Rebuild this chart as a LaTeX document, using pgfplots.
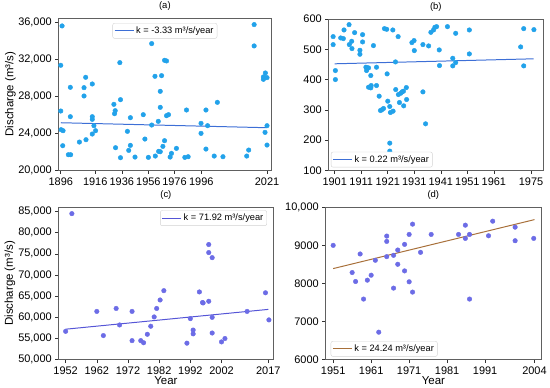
\documentclass[border=0pt]{standalone}
\usepackage{fontspec}
\setmainfont{Liberation Sans}
\usepackage{pgfplots}
\pgfplotsset{compat=1.18}
\definecolor{ptsA}{HTML}{22A2EA}
\definecolor{lineA}{HTML}{3D6FD6}
\definecolor{ptsC}{HTML}{6C6CE6}
\definecolor{lineC}{HTML}{5555D6}
\definecolor{lineD}{HTML}{A8703A}
\pgfplotsset{
  myax/.style={
    scale only axis, anchor=south west, clip=false,
    axis line style={gray!75!black, line width=0.7pt},
    tick style={gray!40!black, line width=0.6pt}, tick align=outside, major tick length=3.5pt,
    xtick pos=bottom, ytick pos=left,
    tick label style={font=\fontsize{11}{11}\selectfont},
    /pgf/number format/assume math mode=true,
    scaled y ticks=false,
    yticklabel style={/pgf/number format/.cd, fixed, 1000 sep={,}},
    title style={font=\fontsize{9.5}{10}\selectfont, at={(0.5,1)}, anchor=south, inner sep=1.5pt},
    label style={font=\fontsize{11.5}{12}\selectfont},
    legend style={font=\fontsize{9.3}{10}\selectfont, draw=gray!35, rounded corners=2pt, inner sep=1.5pt},
    legend cell align=left,
    legend image code/.code={\draw[#1] (0pt,0pt) -- (19pt,0pt);},
  },
  pts/.style={only marks, mark=*, mark size=2.3pt, color=#1, mark options={solid, draw=#1, fill=#1}},
}
\begin{document}
\begin{tikzpicture}
\path (0,0) rectangle (550pt,385pt);
% (a)
\begin{axis}[myax, at={(59pt,218pt)}, width=213pt, height=153pt,
  title={(a)}, ylabel={Discharge (m³/s)},
  ylabel style={at={(axis description cs:-0.228,0.5)}, anchor=center},
  xmin=1894.8, xmax=2023.4, ymin=20000, ymax=36500,
  ytick={20000,24000,28000,32000,36000},
  xtick={1896,1916.9,1933.0,1949.1,1964.9,1981.2,2021},
  xticklabels={1896,1916,1936,1956,1976,1996,2021},
  legend style={at={(0.5,0.967)}, anchor=north}]
\addplot[lineA, line width=1pt] coordinates {(1896,25160) (2021,24620)};
\addlegendentry{k = -3.33 m³/s/year}
\addplot[pts=ptsA, forget plot] table {
x y
1896.8 35640
1896.0 31378
1896.0 26429
1896.2 24407
1897.4 24298
1897.2 22673
1900.6 21698
1902.0 21698
1901.8 28994
1901.8 25815
1907.3 23070
1910.1 28958
1910.1 28055
1911.1 30077
1911.3 23323
1915.1 29355
1915.1 25815
1915.1 25526
1915.1 23937
1916.1 24840
1917.1 24298
1928.2 27152
1928.6 26140
1929.0 26465
1929.2 22456
1931.8 31667
1932.2 27657
1932.2 21373
1936.4 24226
1937.2 22167
1938.2 25707
1938.2 22709
1941.0 21445
1946.0 26032
1947.0 23395
1949.1 21409
1951.1 33726
1951.1 24912
1953.1 30186
1953.3 21553
1955.1 25310
1955.3 22059
1956.3 22023
1956.3 28560
1956.3 26827
1957.1 30258
1957.9 22601
1958.9 23215
1958.9 31920
1960.1 31847
1960.1 25924
1961.3 26032
1962.3 21445
1963.1 21842
1966.1 22384
1971.2 21409
1972.2 26538
1973.2 21481
1981.0 25093
1981.0 24009
1984.0 26538
1984.0 22312
1985.0 24840
1989.0 21553
1990.9 27368
1994.3 21481
2008.7 21553
2009.9 22203
2013.2 35785
2013.2 33473
2018.8 30113
2018.8 29860
2019.8 30041
2020.0 30547
2021.0 30041
2019.8 24118
2021.0 24840
2021.0 22745
};
\end{axis}
% (b)
\begin{axis}[myax, at={(330pt,218pt)}, width=215pt, height=152pt,
  title={(b)},
  xmin=1898.75, xmax=1979.5, ymin=100, ymax=600,
  ytick={100,200,300,400,500,600},
  xtick={1901,1911,1921,1931,1941,1951,1961,1975},
  xticklabels={1901,1911,1921,1931,1941,1951,1961,1975},
  legend style={at={(0.01,0.02)}, anchor=south west}]
\addplot[lineA, line width=1pt] coordinates {(1901,452) (1976,468.5)};
\addlegendentry{k = 0.22 m³/s/year}
\addplot[pts=ptsA, forget plot] table {
x y
1900.4 541.8
1900.4 515.4
1901.25 429.7
1901.25 400.0
1903.25 537.4
1904.25 535.2
1904.5 563.7
1906.4 581.3
1906.5 515.4
1907.4 526.4
1907.5 502.2
1908.5 554.9
1910.5 496.7
1910.5 483.5
1911.5 548.3
1911.5 524.2
1912.75 440.7
1913 429.7
1913.25 438.5
1913.75 438.5
1914.6 413.2
1915.6 512.1
1913.75 374.7
1914.6 372.5
1914.75 380.2
1916.75 380.2
1916.75 440.7
1917.75 345.1
1918.25 297.8
1918.75 300.0
1919.4 304.4
1919.75 568.1
1920.6 565.9
1920.75 418.7
1921 328.6
1921.75 311.0
1922 291.2
1921.75 190.1
1921.75 163.7
1923 295.6
1922.9 563.7
1923.9 458.2
1924 367.0
1924.9 541.8
1925 350.5
1925.4 324.2
1925.9 354.9
1926.4 359.3
1926.9 361.5
1927 313.2
1928 373.6
1928.1 334.1
1930.1 522.0
1930.9 528.6
1931 495.6
1934.25 515.4
1934.25 359.3
1935.25 253.8
1936.4 511.0
1937.25 556.0
1938.25 563.7
1938.75 572.5
1939.4 574.7
1940.4 497.8
1940.5 446.2
1943.5 574.7
1945.5 470.3
1945.5 445.1
1946.6 552.7
1946.6 456.0
1951.75 563.7
1951.75 484.6
1971.1 507.7
1972.25 568.1
1972.25 445.1
1976.1 564.8
};
\end{axis}
% (c)
\begin{axis}[myax, at={(59pt,28pt)}, width=215pt, height=153pt,
  title={(c)}, ylabel={Discharge (m³/s)}, xlabel={Year},
  ylabel style={at={(axis description cs:-0.228,0.5)}, anchor=center},
  xlabel style={at={(axis description cs:0.5,-0.137)}, anchor=center},
  xmin=1949.8, xmax=2018.5, ymin=50000, ymax=86000,
  ytick={50000,55000,60000,65000,70000,75000,80000,85000},
  xtick={1952,1962,1972,1982,1992,2002,2017},
  xticklabels={1952,1962,1972,1982,1992,2002,2017},
  legend style={at={(0.972,0.98)}, anchor=north east}]
\addplot[lineC, line width=1pt] coordinates {(1952,57200) (2017,61880)};
\addlegendentry{k = 71.92 m³/s/year}
\addplot[pts=ptsC, forget plot] table {
x y
1954.0 84500
1952.0 56700
1962.0 61400
1964.1 55700
1968.2 62100
1969.3 58200
1973.3 61400
1973.3 54500
1976.1 54500
1977.0 54000
1978.2 56000
1979.3 57900
1980.4 60100
1981.2 62100
1982.3 64100
1983.5 66300
1990.9 53900
1992.0 59700
1992.9 57000
1992.9 56100
1994.9 66000
1995.9 63500
1996.1 63400
1997.9 63800
1997.9 77200
1997.9 75300
1999.0 74100
1999.0 60000
1999.0 56300
2002.0 54200
2003.1 55000
2010.2 61400
2016.1 65800
2017.2 59400
};
\end{axis}
% (d)
\begin{axis}[myax, at={(327pt,28pt)}, width=216pt, height=153pt,
  title={(d)}, xlabel={Year},
  xlabel style={at={(axis description cs:0.5,-0.137)}, anchor=center},
  xmin=1949.05, xmax=2005.7, ymin=6000, ymax=10000,
  ytick={6000,7000,8000,9000,10000},
  yticklabels={6000,7000,8000,9000,{10,000}},
  xtick={1951,1961,1971,1981,1991,2004},
  xticklabels={1951,1961,1971,1981,1991,2004},
  legend style={at={(0.023,0.02)}, anchor=south west}]
\addplot[lineD, line width=1pt] coordinates {(1951,8391) (2004,9676)};
\addlegendentry{k = 24.24 m³/s/year}
\addplot[pts=ptsC, forget plot] table {
x y
1951.0 9000
1956.0 8287
1956.9 8052
1958.1 8774
1959.0 7591
1960.0 8087
1961.0 8217
1962.1 8609
1963.0 6722
1965.1 9244
1965.1 9104
1965.1 8704
1966.9 7878
1966.9 8739
1968.0 8878
1968.0 8504
1969.8 9026
1969.8 8330
1971.0 9287
1971.0 8044
1971.9 9557
1971.9 7774
1974.0 8817
1976.8 9287
1984.0 9287
1985.8 9530
1985.8 9183
1986.9 9287
1986.9 7591
1991.9 9252
1993.0 9635
1998.9 9478
1998.9 9122
2003.8 9183
};
\end{axis}
\end{tikzpicture}
\end{document}
